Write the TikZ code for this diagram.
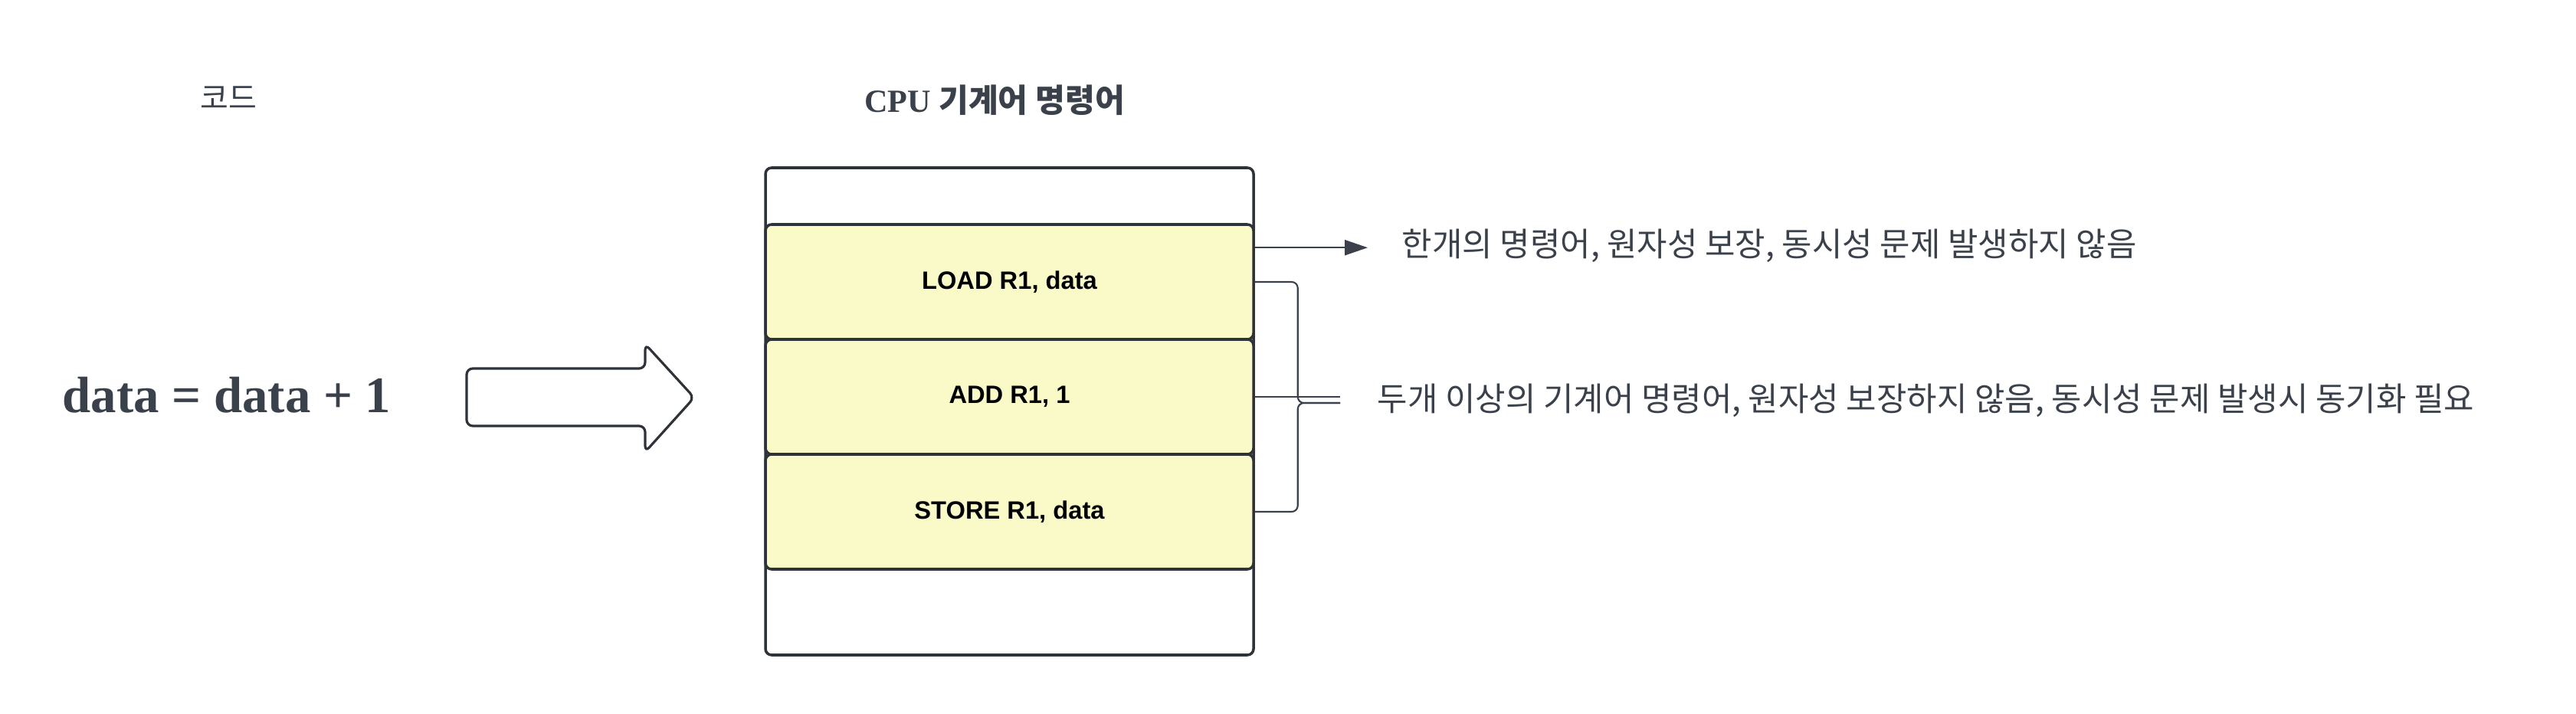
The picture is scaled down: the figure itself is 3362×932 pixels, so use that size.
\documentclass[tikz,border=0pt]{standalone}
\usepackage{fontspec}
\usepackage{xcolor}
\usepackage{tikz}
\usetikzlibrary{arrows.meta}
\setmainfont{Liberation Serif}
\newfontfamily\krfont{Noto Sans CJK KR}
\newfontfamily\opfont{Liberation Sans}
\definecolor{ink}{HTML}{3A414A}
\definecolor{edge}{HTML}{2E3239}
\definecolor{memo}{HTML}{FAFAC8}

\begin{document}
\begin{tikzpicture}[x=0.1mm, y=-0.1mm,
    title/.style={text=ink, inner sep=0pt},
    note/.style={text=ink, inner sep=0pt, anchor=west, font=\krfont\fontsize{12.2}{14}\selectfont},
    instr/.style={draw=edge, line width=1pt, fill=memo, rounded corners=0.8mm,
        minimum width=63.7mm, minimum height=15mm, inner sep=0pt,
        font=\opfont\bfseries\fontsize{9.3}{11}\selectfont},
    conn/.style={draw=ink, line width=0.6pt}]
    \useasboundingbox (0,0) rectangle (3362,932);

    % titles
    \node[title, font=\krfont\fontsize{11.4}{13}\selectfont] (codetitle) at (298,128) {코드};
    \node[title] (cputitle) at (1298,131) {\fontsize{12}{14}\selectfont\textbf{CPU} {\krfont\bfseries 기계어 명령어}};

    % code line and big arrow
    \node[title, anchor=base, font=\bfseries\fontsize{19}{22}\selectfont] (code) at (296,539) {data = data + 1};
    \draw[draw=edge, line width=0.9pt, fill=white, rounded corners=0.8mm]
        (609,481) -- (842,481) -- (842,449) -- (906,519) -- (842,590) -- (842,556) -- (609,556) -- cycle;

    % memory block
    \node[draw=edge, line width=1pt, rounded corners=0.8mm, minimum width=63.7mm, minimum height=63.6mm] (mem) at (1317.5,537) {};
    \node[instr] (load) at (1317.5,368) {LOAD R1, data};
    \node[instr] (add) at (1317.5,518) {ADD R1, 1};
    \node[instr] (store) at (1317.5,668) {STORE R1, data};

    % annotations
    \coordinate (arrend) at (1785,324);
    \coordinate (bracetip) at (1749,526);
    \draw[conn, -{Triangle[length=3mm,width=2mm]}] ([yshift=-3.2mm]load.north east) coordinate (arrstart) -- (arrstart -| arrend);
    \draw[conn, rounded corners=0.8mm] (load.east) -| ([xshift=5.6mm]load.east |- bracetip) -- (bracetip);
    \draw[conn, rounded corners=0.8mm] (store.east) -| ([xshift=5.6mm]store.east |- bracetip) -- (bracetip);
    \draw[conn] (add.east) -- (add.east -| bracetip);
    \node[note] (single) at (1829,321) {한개의 명령어, 원자성 보장, 동시성 문제 발생하지 않음};
    \node[note] (multi) at (1797,523) {두개 이상의 기계어 명령어, 원자성 보장하지 않음, 동시성 문제 발생시 동기화 필요};
\end{tikzpicture}
\end{document}
